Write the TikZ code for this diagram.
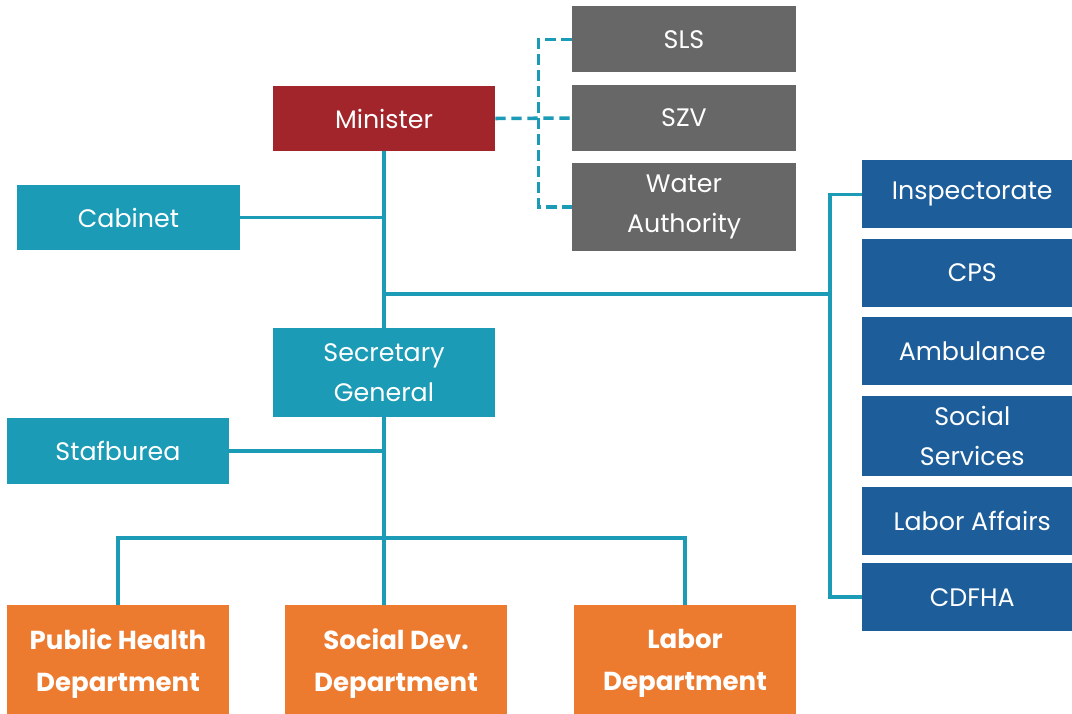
\documentclass[tikz,border=0pt]{standalone}
\usepackage{fontspec}
\setmainfont{Poppins}
\usepackage{tikz}
\usetikzlibrary{positioning}
\usepackage{xcolor}

\definecolor{minred}{HTML}{A1252A}
\definecolor{stonegray}{HTML}{676767}
\definecolor{teal}{HTML}{1B9BB6}
\definecolor{navy}{HTML}{1D5E9A}
\definecolor{deptorange}{HTML}{EC7A2F}

\tikzset{
  box/.style={rectangle, inner sep=2pt, text=white, align=center,
    font=\fontsize{18}{28}\selectfont},
  office/.style={box, fill=teal, minimum width=5.55cm, minimum height=1.63cm},
  agency/.style={box, fill=stonegray, minimum width=5.6cm, minimum height=1.65cm},
  unit/.style={box, fill=navy, minimum width=5.5cm, minimum height=1.7cm, anchor=north west},
  dept/.style={box, fill=deptorange, minimum width=5.55cm, minimum height=2.9cm,
    font=\fontsize{18.5}{30}\selectfont\bfseries, anchor=north},
  link/.style={draw=teal, line width=2.5pt},
  dashlink/.style={link, dash pattern=on 0.26cm off 0.14cm}
}

\begin{document}
\begin{tikzpicture}[x=0.025cm, y=-0.025cm]
  \clip (0,0) rectangle (1072,713);
  \fill[white] (0,0) rectangle (1072,713);

  % top of the tree
  \node[box, fill=minred, minimum width=5.55cm, minimum height=1.63cm] (min) at (384,118.5) {Minister};
  \node[office] (cab) at (128.5,217.5) {Cabinet};
  \node[office, minimum height=2.22cm] (sec) at (384,372.5) {Secretary\\General};
  \node[office, minimum height=1.65cm] (staf) at (118,451) {Stafburea};

  % agencies on a dashed line
  \node[agency] (szv) at (684,118) {SZV};
  \node[agency] (sls) [above=0.3cm of szv] {SLS};
  \node[agency, minimum height=2.18cm, anchor=north] (water) at (684,163) {Water\\Authority};

  % column on the right
  \node[unit] (insp) at (862,160) {Inspectorate};
  \node[unit] (cps) [below=0.25cm of insp] {CPS};
  \node[unit] (amb) [below=0.25cm of cps] {Ambulance};
  \node[unit, minimum height=2cm] (soc) [below=0.25cm of amb] {Social\\Services};
  \node[unit] (lab) [below=0.25cm of soc] {Labor Affairs};
  \node[unit] (cdf) [below=0.2cm of lab] {CDFHA};

  % departments
  \node[dept] (ph) at (118,605) {Public Health\\Department};
  \node[dept] (sd) at (396,605) {Social Dev.\\Department};
  \node[dept] (ld) at (685,605) {Labor\\Department};

  \coordinate (hub) at (384,294);
  \coordinate (col) at (830,294);
  \coordinate (bus) at (384,538);

  % solid lines
  \draw[link] (min.south) -- (sec.north);
  \draw[link] (cab.east) -- (cab.east -| min.south);
  \draw[link] (hub) -- (col);
  \draw[link] (insp.west) -- (insp.west -| col) -- (cdf.west -| col) -- (cdf.west);
  \draw[link] (staf.east) -- (staf.east -| sec.south);
  \draw[link] (sec.south) -- (bus);
  \draw[link] (ph.north) |- (bus) -| (ld.north);
  \draw[link] (bus) -- (bus |- sd.north);

  % dashed lines
  \draw[dashlink] (min.east) -- (szv.west);
  \draw[dashlink] (sls.west) -- ++(-33,0) |- (water.west);
\end{tikzpicture}
\end{document}
